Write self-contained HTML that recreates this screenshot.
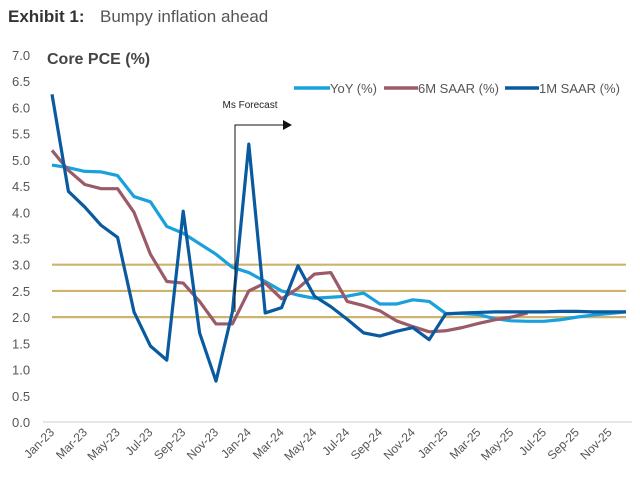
<!DOCTYPE html>
<html><head><meta charset="utf-8"><style>
body{margin:0;background:#fff;width:640px;height:484px;overflow:hidden;font-family:"Liberation Sans",sans-serif}
svg{display:block}
</style></head><body>
<svg id="chart" width="640" height="484">
<text x="8" y="22" font-size="17" fill="#333" font-weight="bold">Exhibit 1:</text>
<text x="100" y="22" font-size="17" fill="#555">Bumpy inflation ahead</text>
<text x="47" y="64" font-size="16" fill="#444" font-weight="bold">Core PCE (%)</text>
<g id="grid"></g><g id="yticks"></g><g id="xticks"></g><g id="series"></g>
<g>
<text x="250" y="108" font-size="10" fill="#222" text-anchor="middle">Ms Forecast</text>
<polyline points="235,312 235,125 283,125" fill="none" stroke="#111" stroke-width="1"/>
<polygon points="283,120 292,125 283,130" fill="#111"/>
</g>
<g>
<line x1="294" y1="88" x2="330" y2="88" stroke="#1aa0dc" stroke-width="3.5"/>
<text x="330" y="93" font-size="13" fill="#555">YoY (%)</text>
<line x1="384" y1="88" x2="418" y2="88" stroke="#9b5a68" stroke-width="3.5"/>
<text x="418" y="93" font-size="13" fill="#555">6M SAAR (%)</text>
<line x1="505" y1="88" x2="539" y2="88" stroke="#0a5aa0" stroke-width="3.5"/>
<text x="539" y="93" font-size="13" fill="#555">1M SAAR (%)</text>
</g>
</svg>
<script>
const months=["Jan-23","Feb-23","Mar-23","Apr-23","May-23","Jun-23","Jul-23","Aug-23","Sep-23","Oct-23","Nov-23","Dec-23","Jan-24","Feb-24","Mar-24","Apr-24","May-24","Jun-24","Jul-24","Aug-24","Sep-24","Oct-24","Nov-24","Dec-24","Jan-25","Feb-25","Mar-25","Apr-25","May-25","Jun-25","Jul-25","Aug-25","Sep-25","Oct-25","Nov-25","Dec-25"];
const yoy=[4.9,4.85,4.78,4.77,4.7,4.3,4.2,3.73,3.6,3.4,3.2,2.95,2.85,2.68,2.5,2.42,2.36,2.38,2.4,2.46,2.25,2.25,2.33,2.3,2.07,2.07,2.05,1.97,1.93,1.92,1.92,1.95,2.0,2.04,2.07,2.1];
const sixM=[5.18,4.8,4.53,4.45,4.45,4.0,3.2,2.68,2.65,2.3,1.87,1.87,2.5,2.65,2.35,2.55,2.82,2.85,2.3,2.22,2.12,1.93,1.82,1.72,1.74,1.8,1.88,1.95,2.0,2.08];
const oneM=[6.25,4.4,4.1,3.75,3.52,2.1,1.45,1.18,4.02,1.7,0.78,2.1,5.3,2.08,2.18,2.98,2.4,2.2,1.96,1.7,1.64,1.73,1.8,1.57,2.06,2.08,2.09,2.1,2.1,2.1,2.1,2.11,2.11,2.1,2.1,2.1];
const yTicks=[0,0.5,1,1.5,2,2.5,3,3.5,4,4.5,5,5.5,6,6.5,7];
const refLines=[2,2.5,3];
const NS="http://www.w3.org/2000/svg";
const X=i=>52+i*16.4, Y=v=>422-v*52.43;
function mk(t,a,p){const e=document.createElementNS(NS,t);for(const k in a)e.setAttribute(k,a[k]);p.appendChild(e);return e;}
const g=document.getElementById('grid');
const base=mk('line',{x1:43,x2:632,y1:Y(0),y2:Y(0),stroke:'#d8d8d8','stroke-width':1.2},g);


refLines.forEach(v=>{const l=mk('line',{x1:X(0),x2:X(35),y1:Y(v),y2:Y(v),stroke:'#cdb36e','stroke-width':2.2},g);

});
const yt=document.getElementById('yticks');
yTicks.forEach(v=>{const t=mk('text',{x:12,y:Y(v)+5,'font-size':13,fill:'#555'},yt);t.textContent=v.toFixed(1);

});
const xt=document.getElementById('xticks');
months.forEach((m,i)=>{if(i%2)return;const x=X(i)+3,y=433;const t=mk('text',{x:x,y:y,'font-size':12,fill:'#555','text-anchor':'end',transform:`rotate(-45 ${x} ${y})`},xt);t.textContent=m;

});
const s=document.getElementById('series');
function line(d,c,n){const p=mk('polyline',{points:d.map((v,i)=>X(i)+','+Y(v)).join(' '),fill:'none',stroke:c,'stroke-width':3.2,'stroke-linejoin':'round'},s);

}
line(yoy,'#1aa0dc','yoy-line');
line(sixM,'#9b5a68','6m-saar-line');
line(oneM,'#0a5aa0','1m-saar-line');
</script>
</body></html>
